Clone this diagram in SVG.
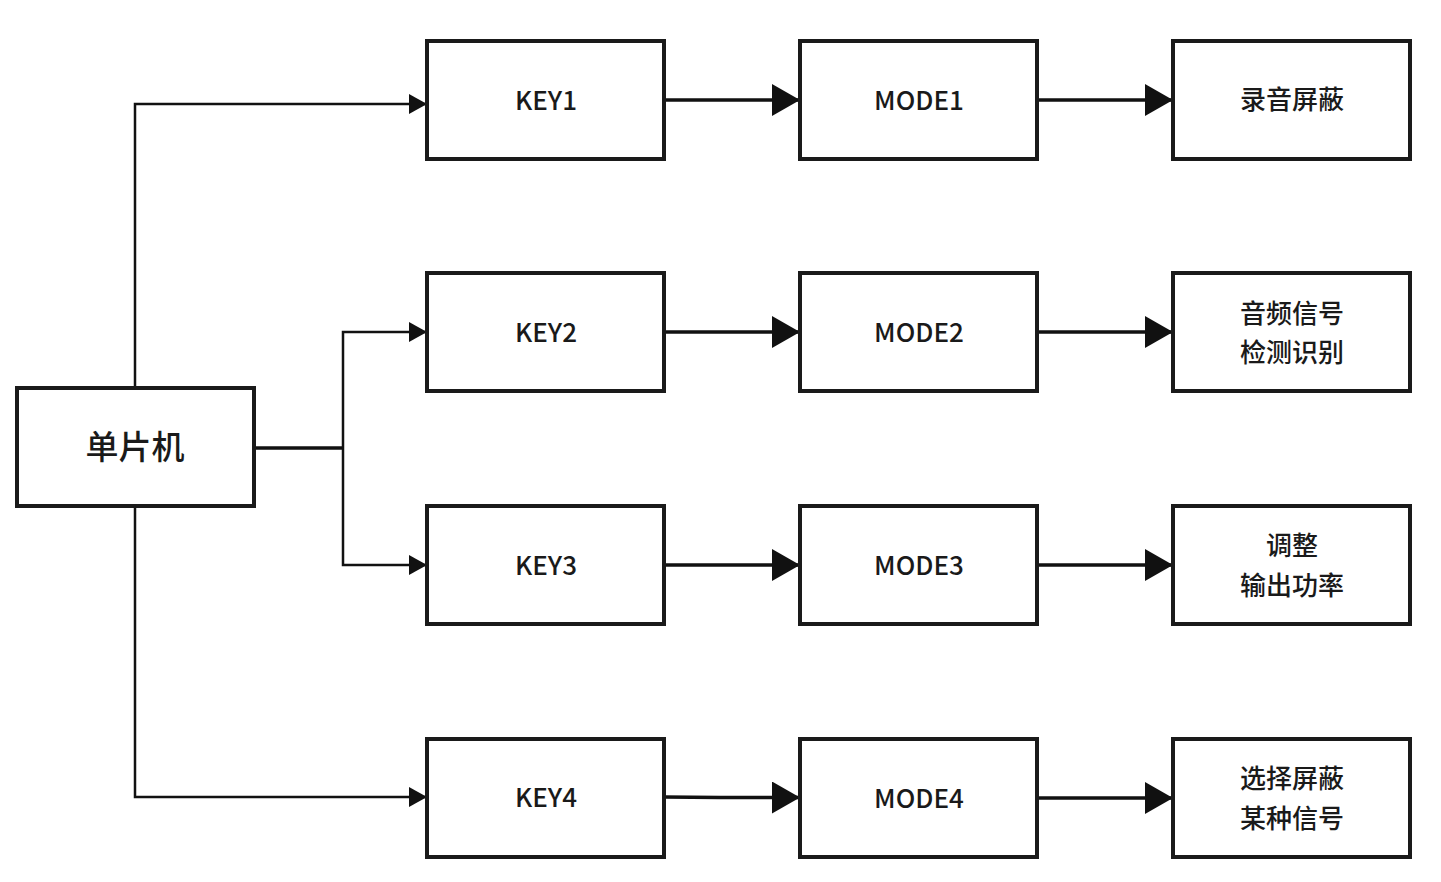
<svg xmlns="http://www.w3.org/2000/svg" width="1441" height="882" viewBox="0 0 1441 882">
<defs>
<style>
.box{fill:#fff;stroke:#1a1a1a;stroke-width:4}
.t{font-family:"Noto Sans CJK SC","Noto Sans",sans-serif;font-size:26px;font-weight:500;fill:#1a1a1a;text-anchor:middle;dominant-baseline:central}
.big{font-size:33px}
.thin{fill:none;stroke:#111;stroke-width:2.5}
.thick{fill:none;stroke:#111;stroke-width:3.5}
</style>
<marker id="sa" markerUnits="userSpaceOnUse" markerWidth="18" markerHeight="20" refX="18" refY="10" orient="auto"><path d="M0,0 L18,10 L0,20 Z" fill="#111"/></marker>
<marker id="la" markerUnits="userSpaceOnUse" markerWidth="28" markerHeight="32" refX="28" refY="16" orient="auto"><path d="M0,0 L28,16 L0,32 Z" fill="#111"/></marker>
</defs>
<rect width="1441" height="882" fill="#fff"/>
<g id="connectors">
<path class="thin" d="M135,387 V104 H427" marker-end="url(#sa)"/>
<path class="thin" d="M135,506 V797 H427" marker-end="url(#sa)"/>
<path class="thick" d="M256,448 H343"/>
<path class="thin" d="M343,448 V332 H427" marker-end="url(#sa)"/>
<path class="thin" d="M343,448 V565 H427" marker-end="url(#sa)"/>
<path class="thick" d="M664,100 H800" marker-end="url(#la)"/>
<path class="thick" d="M1037,100 H1173" marker-end="url(#la)"/>
<path class="thick" d="M664,332 H800" marker-end="url(#la)"/>
<path class="thick" d="M1037,332 H1173" marker-end="url(#la)"/>
<path class="thick" d="M664,565 H800" marker-end="url(#la)"/>
<path class="thick" d="M1037,565 H1173" marker-end="url(#la)"/>
<path class="thick" d="M664,797 L720,797.5 H800" marker-end="url(#la)"/>
<path class="thick" d="M1037,798 H1173" marker-end="url(#la)"/>
</g>
<g id="mcu"><rect class="box" x="17" y="388" width="237" height="118"/><text class="t big" x="135" y="445">单片机</text></g>
<g id="key1"><rect class="box" x="427" y="41" width="237" height="118"/><text class="t" x="546" y="98">KEY1</text></g>
<g id="key2"><rect class="box" x="427" y="273" width="237" height="118"/><text class="t" x="546" y="330">KEY2</text></g>
<g id="key3"><rect class="box" x="427" y="506" width="237" height="118"/><text class="t" x="546" y="563">KEY3</text></g>
<g id="key4"><rect class="box" x="427" y="739" width="237" height="118"/><text class="t" x="546" y="795">KEY4</text></g>
<g id="mode1"><rect class="box" x="800" y="41" width="237" height="118"/><text class="t" x="919" y="98">MODE1</text></g>
<g id="mode2"><rect class="box" x="800" y="273" width="237" height="118"/><text class="t" x="919" y="330">MODE2</text></g>
<g id="mode3"><rect class="box" x="800" y="506" width="237" height="118"/><text class="t" x="919" y="563">MODE3</text></g>
<g id="mode4"><rect class="box" x="800" y="739" width="237" height="118"/><text class="t" x="919" y="796">MODE4</text></g>
<g id="out1"><rect class="box" x="1173" y="41" width="237" height="118"/><text class="t" x="1292" y="97">录音屏蔽</text></g>
<g id="out2"><rect class="box" x="1173" y="273" width="237" height="118"/><text class="t" x="1292" y="311">音频信号</text><text class="t" x="1292" y="350">检测识别</text></g>
<g id="out3"><rect class="box" x="1173" y="506" width="237" height="118"/><text class="t" x="1292" y="543">调整</text><text class="t" x="1292" y="583">输出功率</text></g>
<g id="out4"><rect class="box" x="1173" y="739" width="237" height="118"/><text class="t" x="1292" y="776">选择屏蔽</text><text class="t" x="1292" y="816">某种信号</text></g>
</svg>
